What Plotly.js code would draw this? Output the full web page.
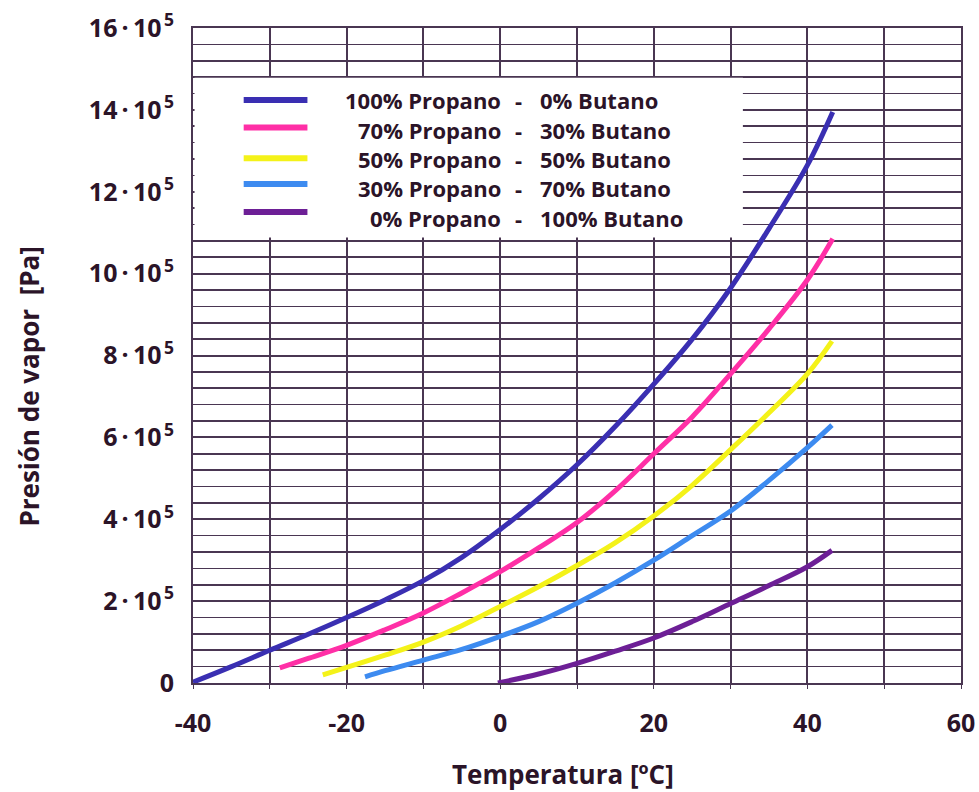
<!DOCTYPE html>
<html>
<head>
<meta charset="utf-8">
<script src="https://cdn.plot.ly/plotly-3.0.1.min.js"></script>
<style>html,body{margin:0;padding:0;background:#fff;}#chart{width:979px;height:792px;}</style>
</head>
<body>
<div id="chart"></div>
<script>
// Temperature [°C] and vapour pressure [x 10^5 Pa]
const tP100 = [-40,-35,-30,-25,-20,-15,-10,-5,0,5,10,15,20,25,30,35,40,43.3];
const pP100 = [0.02,0.4,0.8,1.19,1.6,2.03,2.5,3.07,3.75,4.5,5.33,6.27,7.3,8.4,9.65,11.1,12.65,13.95];

const tP70 = [-28.7,-25,-20,-15,-10,-5,0,5,10,15,20,25,30,35,40,43.3];
const pP70 = [0.37,0.6,0.92,1.3,1.71,2.2,2.72,3.3,3.92,4.7,5.6,6.5,7.55,8.65,9.85,10.85];

const tP50 = [-23.1,-20,-15,-10,-5,0,5,10,15,20,25,30,35,40,43.2];
const pP50 = [0.2,0.38,0.68,1.0,1.4,1.87,2.35,2.87,3.43,4.08,4.83,5.7,6.6,7.55,8.35];

const tP30 = [-17.6,-15,-10,-5,0,5,10,15,20,25,30,35,40,43.2];
const pP30 = [0.15,0.3,0.56,0.82,1.14,1.5,1.95,2.45,3.0,3.6,4.2,4.95,5.75,6.3];

const tP0 = [-0.3,5,10,15,20,25,30,35,40,43.2];
const pP0 = [0,0.22,0.48,0.78,1.1,1.5,1.94,2.38,2.84,3.24];

const seriesLeft = ['100% Propano','70% Propano','50% Propano','30% Propano','0% Propano'];
const seriesRight = ['0% Butano','30% Butano','50% Butano','70% Butano','100% Butano'];
const seriesColors = ['#3a2fb2','#ff2fa6','#f4f219','#3d8bf0','#6d1f96'];

const xTickVals = [-40,-20,0,20,40,60];
const xTickText = ['-40','-20','0','20','40','60'];
const yTickVals = [0,2,4,6,8,10,12,14,16];
const yTickText = ['0','2\u2009·\u200910\u200A<sup>5</sup>','4\u2009·\u200910\u200A<sup>5</sup>','6\u2009·\u200910\u200A<sup>5</sup>',
  '8\u2009·\u200910\u200A<sup>5</sup>','10\u2009·\u200910\u200A<sup>5</sup>','12\u2009·\u200910\u200A<sup>5</sup>',
  '14\u2009·\u200910\u200A<sup>5</sup>','16\u2009·\u200910\u200A<sup>5</sup>'];

const xs = [tP100,tP70,tP50,tP30,tP0];
const ys = [pP100,pP70,pP50,pP30,pP0];

const gridCol = '#4a3652';
const txtCol = '#2b1428';
const fontFam = 'Open Sans, sans-serif';

const traces = xs.map((x,i)=>({
  x: x, y: ys[i], type:'scatter', mode:'lines',
  line:{color:seriesColors[i], width:5, shape:'spline', smoothing:1},
  name: seriesLeft[i]+' - '+seriesRight[i], showlegend:false, hoverinfo:'skip'
}));

// legend box & entries (positions in paper coordinates)
const shapes = [{type:'rect', xref:'paper', yref:'paper', x0:0.002, x1:0.716, y0:0.68, y1:0.924,
  fillcolor:'#ffffff', line:{width:0}, layer:'above'}];
const annotations = [];
const lineY = [0.890,0.848,0.801,0.762,0.719];
const textY = [0.890,0.845,0.800,0.755,0.710];
for (let i=0;i<seriesLeft.length;i++){
  shapes.push({type:'line', xref:'paper', yref:'paper', x0:0.066, x1:0.149, y0:lineY[i], y1:lineY[i],
    line:{color:seriesColors[i], width:6}, layer:'above'});
  annotations.push({xref:'paper', yref:'paper', x:0.4036, y:textY[i], xanchor:'right', yanchor:'middle',
    text:seriesLeft[i], showarrow:false, font:{family:fontFam, size:22, weight:700, color:txtCol}});
  annotations.push({xref:'paper', yref:'paper', x:0.424, y:textY[i], xanchor:'center', yanchor:'middle',
    text:'-', showarrow:false, font:{family:fontFam, size:22, weight:700, color:txtCol}});
  annotations.push({xref:'paper', yref:'paper', x:0.449, y:textY[i], xanchor:'left', yanchor:'middle',
    text:seriesRight[i], showarrow:false, font:{family:fontFam, size:22, weight:700, color:txtCol}});
}
annotations.push({xref:'paper', yref:'paper', x:0.482, y:-0.139, xanchor:'center', yanchor:'middle',
  text:'Temperatura [ºC]', showarrow:false, font:{family:fontFam, size:26, weight:700, color:txtCol}});
annotations.push({xref:'paper', yref:'paper', x:-0.214, y:0.452, xanchor:'center', yanchor:'middle',
  textangle:-90, text:'Presión de vapor  [Pa]', showarrow:false, font:{family:fontFam, size:26, weight:700, color:txtCol}});

const layout = {
  width:979, height:792,
  margin:{l:193, r:18, t:28, b:109},
  paper_bgcolor:'#ffffff', plot_bgcolor:'#ffffff',
  showlegend:false,
  xaxis:{range:[-40,60], tickvals:xTickVals, ticktext:xTickText, showgrid:true, gridcolor:gridCol, gridwidth:2,
    zeroline:false, showline:true, linecolor:gridCol, linewidth:2, mirror:true,
    ticks:'outside', ticklen:4, tickcolor:gridCol, ticklabelstandoff:13,
    minor:{dtick:10, tick0:0, showgrid:true, gridcolor:gridCol, gridwidth:2, ticks:'outside', ticklen:4, tickcolor:gridCol},
    tickfont:{family:fontFam, size:25, weight:700, color:txtCol}},
  yaxis:{range:[0,16], tickvals:yTickVals, ticktext:yTickText, showgrid:true, gridcolor:gridCol, gridwidth:2,
    zeroline:false, showline:true, linecolor:gridCol, linewidth:2, mirror:true,
    ticks:'', ticklabelstandoff:12,
    minor:{dtick:0.4, tick0:0, showgrid:true, gridcolor:gridCol, gridwidth:1.6},
    tickfont:{family:fontFam, size:25, weight:700, color:txtCol}},
  shapes:shapes, annotations:annotations
};

Plotly.newPlot('chart', traces, layout, {displayModeBar:false, staticPlot:true});
</script>
</body>
</html>
